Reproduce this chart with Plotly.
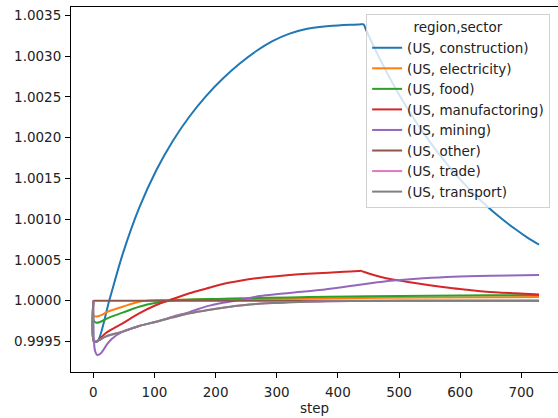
import plotly.graph_objects as go

# Relative output by sector over the simulation steps (region US)
steps_construction = [0, 1, 7, 26, 48, 75, 103, 130, 157, 184, 212, 239, 266, 293, 321, 348,
                      386, 420, 438, 442, 446, 460, 480, 500, 539, 580, 613, 632, 660, 690, 710,
                      729]
vals_construction = [1.0, 0.9995, 0.9995, 1.0, 1.000572, 1.001139, 1.001601, 1.00196, 1.002257,
                     1.002508, 1.002726, 1.002907, 1.003061, 1.003185, 1.003277, 1.003334,
                     1.00337, 1.003386, 1.003391, 1.003392, 1.003325, 1.0031, 1.002802,
                     1.002531, 1.002068, 1.00166, 1.001383, 1.001242, 1.001054, 1.000879,
                     1.000774, 1.000687]

steps_electricity = [0, 1, 5, 12, 25, 48, 75, 100, 150, 250, 400, 550, 729]
vals_electricity = [1.0, 0.99981, 0.999805, 0.99982, 0.99987, 0.999926, 0.999988, 1.000005,
                    1.000012, 1.00002, 1.00003, 1.00004, 1.000045]

steps_food = [0, 1, 5, 10, 25, 48, 75, 103, 130, 160, 200, 250, 321, 384, 450, 550, 650, 729]
vals_food = [1.0, 0.99975, 0.99973, 0.999735, 0.99979, 0.999853, 0.999926, 0.999975, 1.000002,
             1.000015, 1.000022, 1.00003, 1.00004, 1.000049, 1.000055, 1.000062, 1.000067, 1.00007]

steps_manufactoring = [0, 1, 7, 20, 48, 75, 103, 126, 157, 185, 212, 240, 266, 295, 321, 350,
                       384, 410, 434, 438, 442, 460, 479, 512, 550, 588, 615, 643, 690, 729]
vals_manufactoring = [1.0, 0.9995, 0.99951, 0.9996, 0.999722, 0.999845, 0.999947, 1.00001,
                      1.000091, 1.00015, 1.000205, 1.000245, 1.000275, 1.000298, 1.000315,
                      1.00033, 1.000344, 1.000355, 1.000364, 1.000366, 1.000355, 1.000312,
                      1.000275, 1.000233, 1.00019, 1.000152, 1.00013, 1.00011, 1.00009,
                      1.000075]

steps_mining = [0, 1, 3, 6, 10, 15, 22, 30, 48, 75, 103, 130, 157, 185, 212, 240, 266, 321,
                370, 420, 479, 503, 540, 588, 650, 729]
vals_mining = [1.0, 0.9995, 0.99938, 0.999335, 0.99934, 0.99938, 0.99946, 0.99953, 0.99962,
               0.99969, 0.999742, 0.999805, 0.99986, 0.99993, 0.999975, 1.00001, 1.00005,
               1.000095, 1.00013, 1.00018, 1.00024, 1.000254, 1.000275, 1.000295, 1.000307,
               1.000315]

steps_other = [0, 729]
vals_other = [1.0, 1.0]

steps_trade = [0, 1, 8, 20, 48, 75, 103, 130, 157, 185, 212, 240, 266, 295, 321, 350, 384, 450,
               550, 729]
vals_trade = [1.0, 0.9995, 0.99951, 0.99956, 0.99962, 0.99969, 0.999742, 0.999795, 0.999845,
              0.999882, 0.999914, 0.99994, 0.99996, 0.999972, 0.99998, 0.999988, 0.999993,
              0.999997, 0.999999, 1.0]

steps_transport = [0, 1, 8, 20, 48, 75, 103, 130, 157, 185, 212, 240, 266, 295, 321, 350, 384,
                   450, 550, 729]
vals_transport = [1.0, 0.9995, 0.99951, 0.99956, 0.99962, 0.99969, 0.999742, 0.999795, 0.999845,
                  0.999882, 0.999914, 0.99994, 0.99996, 0.999972, 0.99998, 0.999988, 0.999993,
                  0.999997, 0.999999, 1.0]

sectors = ["construction", "electricity", "food", "manufactoring", "mining", "other", "trade",
           "transport"]
series = {
    "construction": (steps_construction, vals_construction),
    "electricity": (steps_electricity, vals_electricity),
    "food": (steps_food, vals_food),
    "manufactoring": (steps_manufactoring, vals_manufactoring),
    "mining": (steps_mining, vals_mining),
    "other": (steps_other, vals_other),
    "trade": (steps_trade, vals_trade),
    "transport": (steps_transport, vals_transport),
}
colors = ["#1f77b4", "#ff7f0e", "#2ca02c", "#d62728", "#9467bd", "#8c564b", "#e377c2", "#7f7f7f"]

font = "DejaVu Sans, Arial, sans-serif"
fig = go.Figure()
for name, color in zip(sectors, colors):
    xs, ys = series[name]
    fig.add_trace(go.Scatter(x=xs, y=ys, mode="lines", name=f"(US, {name})",
                             line=dict(color=color, width=2, shape="spline", smoothing=0.8)))

fig.update_layout(
    width=558, height=418,
    margin=dict(l=71, r=0, t=7, b=46),
    paper_bgcolor="white", plot_bgcolor="white",
    font=dict(family=font, size=13.5, color="#222"),
    showlegend=True,
    legend=dict(
        title=dict(text="region,sector", side="top center", font=dict(size=13.5)),
        x=0.606, y=0.981, xanchor="left", yanchor="top",
        bgcolor="rgba(255,255,255,0.8)", bordercolor="#d0d0d0", borderwidth=1,
        font=dict(size=13.5), tracegroupgap=0, itemwidth=30,
    ),
    xaxis=dict(
        range=[-36.5, 760], tickmode="linear", tick0=0, dtick=100,
        showline=True, linecolor="black", linewidth=1, mirror=True,
        ticks="outside", ticklen=5, tickwidth=1, tickcolor="black",
        ticklabelstandoff=3,
        showgrid=False, zeroline=False,
        title=dict(text="step", standoff=1, font=dict(size=13.5)),
    ),
    yaxis=dict(
        range=[0.999125, 1.003604], tickmode="linear", tick0=0.9995, dtick=0.0005,
        tickformat=".4f", ticklabelstandoff=1,
        showline=True, linecolor="black", linewidth=1, mirror=False,
        ticks="outside", ticklen=5, tickwidth=1, tickcolor="black",
        showgrid=False, zeroline=False,
    ),
)

fig.write_html("out.html")
